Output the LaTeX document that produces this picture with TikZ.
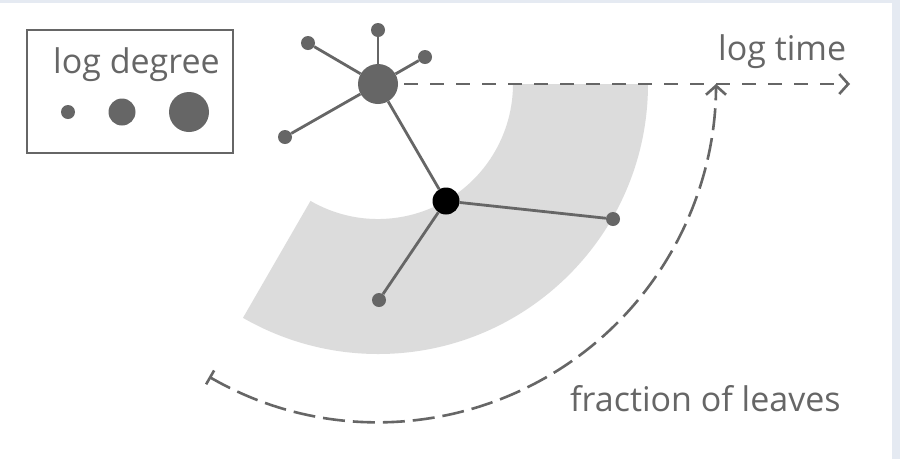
\documentclass[tikz,border=0pt]{standalone}
\usepackage{fontspec}
\setmainfont{Open Sans}
\usetikzlibrary{arrows.meta,calc}
\definecolor{ink}{HTML}{666666}
\definecolor{band}{HTML}{DCDCDC}
\definecolor{frame}{HTML}{E5EAF2}
\tikzset{
  vert/.style={circle,fill=ink,inner sep=0pt,draw=none},
  leafv/.style={vert,minimum size=14pt},
  midv/.style={vert,minimum size=27pt},
  bigv/.style={vert,minimum size=40pt},
  focusv/.style={circle,fill=black,inner sep=0pt,minimum size=27pt},
  edge/.style={draw=ink,line width=2.8pt},
  label/.style={text=ink,font=\fontsize{34}{37}\selectfont,inner sep=0pt,anchor=base west},
  timeline/.style={draw=ink,line width=2.6pt,dash pattern=on 14pt off 12pt,
    -{Straight Barb[length=9pt,width=20pt,line width=2.6pt]}},
  leafarc/.style={draw=ink,line width=2.6pt,dash pattern=on 22pt off 8pt,
    {Bar[width=16pt,line width=2.6pt]}-{Straight Barb[length=9pt,width=20pt,line width=2.6pt]}},
}
\begin{document}
\begin{tikzpicture}[x=1pt,y=1pt]
  % page and thin frame along the top and right
  \fill[white] (0,0) rectangle (900,-459);
  \fill[frame] (0,0) rectangle (900,-3);
  \fill[frame] (892,0) rectangle (900,-459);
  \useasboundingbox (0,0) rectangle (900,-459);

  \coordinate (c) at (378,-84);

  % shaded band of leaves
  \fill[band] ($(c)+(0:270pt)$) arc[start angle=0,end angle=-120,radius=270pt]
    -- ($(c)+(-120:135pt)$) arc[start angle=-120,end angle=0,radius=135pt] -- cycle;

  % legend
  \node[draw=ink,line width=2.6pt,minimum width=206pt,minimum height=123pt,inner sep=0pt] (legend) at (130,-91.5) {};
  \node[label] (legtxt) at (53,-73) {log degree};
  \node[leafv] (s1) at (68,-112) {};
  \node[midv] (s2) at (122,-112) {};
  \node[bigv] (s3) at (189,-112) {};

  % tree
  \node[bigv] (hub) at (c) {};
  \node[leafv] (ltop) at (378,-30) {};
  \node[leafv] (lur) at (425,-57) {};
  \node[leafv] (lul) at (308,-43) {};
  \node[leafv] (lll) at (285,-137) {};
  \node[focusv] (f) at (446,-201) {};
  \node[leafv] (lr) at (613,-219) {};
  \node[leafv] (lb) at (379,-300) {};

  \draw[edge] (hub) -- (ltop);
  \draw[edge] (hub) -- (lur);
  \draw[edge] (hub) -- (lul);
  \draw[edge] (hub) -- (lll);
  \draw[edge] (hub) -- (f);
  \draw[edge] (f) -- (lr);
  \draw[edge] (f) -- (lb);

  % axes
  \coordinate (tend) at (850,-84);
  \draw[timeline] (hub.east) ++(6,0) -- (tend);
  \draw[leafarc] ($(c)+(-120:338pt)$) arc[start angle=-120,end angle=0,radius=338pt];

  \node[label] (ltime) at (718,-60) {log time};
  \node[label] (lfrac) at (570,-411) {fraction of leaves};
\end{tikzpicture}
\end{document}
